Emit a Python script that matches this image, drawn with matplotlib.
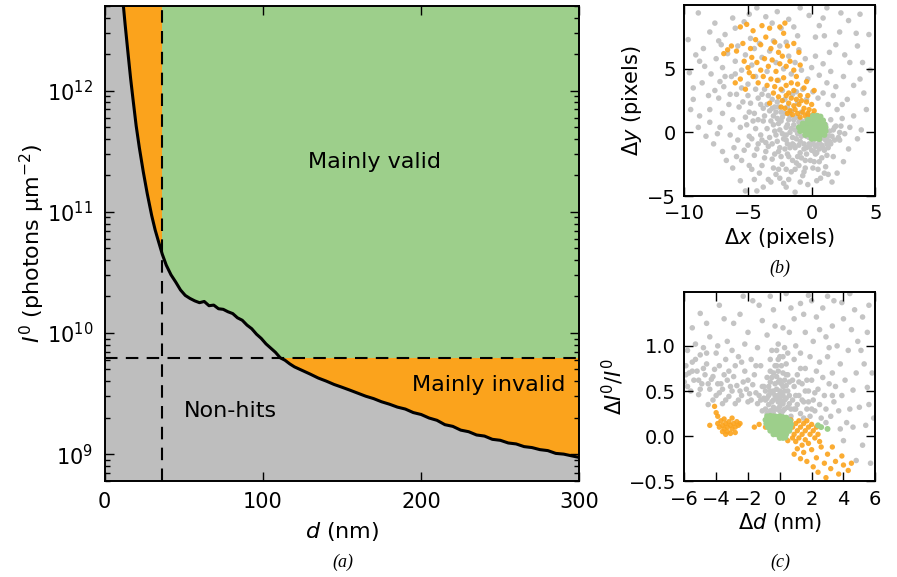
import matplotlib
matplotlib.use("Agg")
import matplotlib.pyplot as plt
import numpy as np

# ---------------- data ----------------
# main curve: d (nm) and log10 I0
curve_d = [0, 6, 9, 11, 12, 13, 14, 15, 16.5, 18, 20, 22, 24.5, 27, 29.8, 32, 34, 36.5, 39, 42, 45,
           48, 51, 54, 57, 60, 63, 66, 69, 72, 75, 78, 81, 84, 87, 90, 93, 96, 99, 102, 105, 108,
           111, 114, 117, 120, 125, 130, 135, 140, 145, 150, 155, 160, 165, 170, 175, 180, 185,
           190, 195, 200, 205, 210, 215, 220, 225, 230, 235, 240, 245, 250, 255, 260, 265, 270,
           275, 280, 285, 290, 295, 300]
curve_logI = [15.0, 13.8, 13.15, 12.84, 12.69, 12.55, 12.42, 12.29, 12.10, 11.93, 11.71, 11.53, 11.33,
              11.15, 10.97, 10.85, 10.76, 10.65, 10.56, 10.48, 10.42, 10.355, 10.31, 10.285, 10.265,
              10.25, 10.26, 10.225, 10.23, 10.20, 10.195, 10.175, 10.16, 10.125, 10.105, 10.065,
              10.035, 9.99, 9.955, 9.91, 9.875, 9.84, 9.795, 9.775, 9.745, 9.72, 9.69, 9.66, 9.628,
              9.603, 9.575, 9.552, 9.528, 9.503, 9.478, 9.458, 9.432, 9.412, 9.388, 9.372, 9.343,
              9.327, 9.298, 9.279, 9.243, 9.229, 9.198, 9.185, 9.158, 9.149, 9.122, 9.114, 9.092,
              9.084, 9.062, 9.054, 9.037, 9.029, 9.006, 9.0, 8.986, 8.972]
d_cut = 36.5          # vertical dashed line (nm)
I_cut = 6.2e9         # horizontal dashed line

# panel (b): delta x / delta y (pixels)
gray_b = [(-9.7,7.3),(-8.9,9.4),(-8.0,7.9),(-6.2,9.0),(-4.3,9.8),(-2.7,9.5),(-0.9,9.8),(1.2,9.8),(3.8,9.3),
          (2.2,7.9),(1.4,6.3),(3.0,5.5),(4.1,3.1),(3.3,1.3),(2.2,-0.6),(1.7,-1.9),(2.0,-3.2),(0.4,-3.8),
          (-2.0,-4.3),(-4.3,-4.6),(-5.6,-3.8),(-6.7,-2.2),(-7.7,-0.9),(-8.8,1.3),(-9.3,2.6),(-9.6,4.7),
          (-9.1,6.1),(-8.4,5.2),(-7.6,8.6),(-7.1,6.9),(-5.3,8.7),(-3.6,9.1),(-1.8,8.9),(-0.2,9.2),(0.6,8.4),
          (2.9,8.8),(4.5,7.7),(3.6,6.8),(2.5,4.4),(4.6,4.9),(2.8,2.6),(3.9,0.2),(2.9,-1.3),(1.1,-2.7),
          (-0.6,-3.1),(-1.3,-4.7),(-3.2,-3.9),(-4.9,-2.6),(-6.1,-1.2),(-7.2,0.4),(-8.3,-0.3),(-8.1,2.9),
          (-8.6,3.9),(-7.9,4.6),(-6.8,7.7),(-4.8,7.4),(-2.4,8.2),(1.9,6.9),(0.3,7.5),(-1.1,7.6),(3.3,3.7),
          (4.3,1.8),(1.6,-3.9),(-2.6,-2.9),(-5.2,-4.6),
          (-7.5,5.8),(-7.0,5.1),(-6.6,6.2),(-6.3,4.4),(-6.0,5.6),(-5.8,6.8),(-5.5,4.9),(-5.2,6.1),(-5.0,3.8),
          (-4.7,5.3),(-4.5,6.6),(-4.4,4.4),(-4.1,7.0),(-3.9,5.9),(-3.7,3.4),(-3.5,4.8),(-3.3,6.4),(-3.0,7.2),
          (-2.8,5.5),(-2.6,4.1),(-2.5,6.8),(-2.2,5.0),(-2.0,7.1),(-1.8,6.0),(-1.6,4.6),(-1.3,5.5),(-1.0,6.5),
          (-0.8,4.9),(-0.5,5.8),(-0.3,4.2),(0.0,5.1),(0.3,6.0),(0.6,4.5),(0.9,5.4),(1.2,3.9),(1.5,4.8),
          (-6.9,3.6),(-7.3,2.7),(-6.5,2.2),(-5.9,3.0),(-5.4,2.4),(-4.9,1.6),(-6.2,1.0),(-7.0,1.5),(-7.6,3.3),
          (-8.0,1.8),(-5.6,0.4),(-4.6,0.9),(-4.2,2.7),(-3.8,1.9),(-3.4,2.9),(-3.0,1.3),(-2.7,2.4),(-2.3,3.3),
          (-1.9,2.0),(-1.5,3.0),(-1.1,2.3),(-0.7,3.4),(-0.4,2.6),(0.1,3.2),(0.5,2.7),(0.9,3.1),(1.3,2.2),
          (1.7,2.9),(2.0,1.8),(2.4,1.1),(1.9,0.5),(2.6,-0.1),
          (-5.8,-0.6),(-5.3,-1.4),(-4.9,-0.3),(-4.5,-1.8),(-4.2,-0.9),(-3.9,-2.6),(-3.6,-1.5),(-3.3,-0.4),
          (-3.1,-2.1),(-2.8,-3.3),(-2.5,-1.2),(-2.3,-2.5),(-2.0,-0.6),(-1.8,-1.9),(-1.6,-3.1),(-1.4,-1.0),
          (-1.2,-2.4),(-0.9,-1.6),(-0.7,-3.4),(-0.5,-2.2),(-0.2,-1.1),(0.1,-2.8),(0.3,-1.7),(0.6,-2.3),
          (0.9,-1.2),(1.2,-1.8),(1.4,-0.7),(1.0,-3.2),(-3.4,-3.7),(-4.1,-3.2),(-4.7,-2.9),(-2.2,-4.0),
          (-0.3,-4.1),(0.7,-3.6),(-5.0,-1.0),(-6.4,-0.2),
          (-3.0,0.6),(-2.8,-0.2),(-2.7,1.1),(-2.5,0.2),(-2.4,0.9),(-2.2,-0.5),(-2.1,1.5),(-2.0,0.4),
          (-1.9,-0.9),(-1.8,1.0),(-1.7,0.0),(-1.6,1.7),(-1.5,-0.4),(-1.4,0.6),(-1.3,-1.2),(-1.2,1.2),
          (-1.1,-0.1),(-1.0,0.8),(-0.9,-0.7),(-0.8,1.6),(-0.7,0.3),(-0.6,-1.3),(-0.5,0.9),(-0.4,-0.3),
          (-0.3,1.4),(-0.2,-0.9),(-0.1,0.1),(0.0,-1.4),(0.1,0.7),(0.2,-0.5),(0.3,-1.1),(0.5,-0.2),
          (0.6,-0.8),(0.8,0.2),(0.9,-0.4),(1.1,0.6),(1.2,-0.9),(1.4,0.1),(1.6,-0.3),(1.5,1.0),(-3.5,0.3),
          (-3.8,0.9),(-4.0,-0.2),(-3.3,1.7),(-2.9,2.0),(-3.6,-0.8),(-2.6,-1.5),(-1.9,-1.7),(-1.1,-1.9),
          (-0.4,-1.7),(0.4,-1.6),(1.0,-1.4),(1.8,0.4),(2.2,0.0),(-4.4,0.3),(-5.1,0.6),(-4.8,2.3),(-3.1,2.6),
          (-2.1,2.6),(-1.2,3.2),
          (-2.9,0.1),(-2.6,0.7),(-2.3,1.2),(-2.3,-0.1),(-2.0,-0.2),(-1.9,0.6),(-1.7,1.3),(-1.6,0.3),
          (-1.5,-0.9),(-1.4,1.0),(-1.3,0.2),(-1.2,-0.5),(-1.0,0.4),(-1.0,-1.0),(-0.9,1.0),(-0.8,-0.3),
          (-0.7,0.7),(-0.6,-0.9),(-0.5,0.2),(-0.4,-1.2),(-0.3,0.5),(-0.2,-0.4),(-0.1,-1.0),(0.0,-0.1),
          (0.1,-0.8),(0.2,-1.5),(0.3,-0.3),(0.4,-1.0),(0.6,-1.3),(0.7,-0.5),(0.8,-1.0),(1.0,-0.1),
          (1.1,-0.6),(1.3,-0.3),(1.3,-1.2),(1.5,-0.9),(1.7,0.2),(1.8,-0.6),(2.1,-0.4),(2.3,0.5),
          (-4.5,1.5),(-4.2,1.0),(-4.0,2.2),(-3.7,1.3),(-3.5,2.2),(-3.2,0.9),(-3.1,1.9),(-2.8,1.6),
          (-2.6,2.0),(-2.4,1.6),(-3.9,3.0),(-4.4,3.4),(-5.0,2.9),(-5.5,3.5),(-6.0,4.6),(-5.7,2.0),
          (-6.4,3.0),(-6.8,4.4),(-7.2,4.0),(-5.2,1.2),(-4.7,-0.5),(-4.3,-1.3),(-3.9,-0.6),(-3.7,-2.0),
          (-3.4,-1.1),(-3.1,-0.9),(-2.9,-1.7),(-2.7,-0.7),(-2.4,-1.9),(-2.1,-1.3),(-1.7,-1.2),(-1.5,-2.2),
          (-1.3,-2.9),(-1.0,-2.6),(-0.8,-2.0),(-0.5,-2.8),(-0.1,-2.2),(0.2,-2.3),(0.5,-2.9),(0.8,-2.0),
          (-2.0,-2.9),(-2.5,-3.6),(-1.8,-3.7),(-3.0,-2.8),(-6.2,-2.8),(-5.5,-2.2),(-7.0,-1.5),(-5.9,-1.9),
          (-8.8,5.6),(-9.3,3.5),(-8.5,6.6),(-7.3,7.2),(-6.0,8.2),(-4.9,9.3),(-3.1,8.6),(-1.4,8.3),
          (0.9,9.0),(2.3,9.4),(3.5,7.8),(4.0,5.5),(2.6,6.1),(1.0,7.6),(3.8,4.2),(1.9,3.6),(2.4,2.2),
          (3.0,0.4),(3.6,-0.5),(2.5,-2.3),(1.3,-3.3),(-0.9,-3.9),(-3.8,-4.3),(-4.5,-3.7),(-7.4,-0.1),
          (-8.9,0.4),(-9.5,1.8),(-8.0,0.8)]
orange_b = [(-5.6,8.3),(-5.1,8.5),(-4.6,8.0),(-3.9,8.4),(-3.3,8.2),(-2.5,8.3),(-2.2,7.8),(-6.3,6.8),
            (-5.9,6.4),(-5.4,7.0),(-4.8,6.6),(-4.4,7.3),(-4.0,6.9),(-3.6,7.5),(-3.2,6.6),(-2.9,7.1),
            (-2.6,6.3),(-1.9,6.8),(-1.4,7.0),(-1.0,6.3),(-5.3,5.6),(-5.0,5.1),(-4.7,5.9),(-4.3,5.5),
            (-4.0,4.9),(-3.7,5.8),(-3.4,5.2),(-3.1,5.7),(-2.8,4.8),(-2.5,5.4),(-2.3,6.0),(-2.0,5.2),
            (-1.7,5.6),(-1.4,4.9),(-0.9,5.3),(-5.6,4.2),(-4.6,4.4),(-4.2,3.9),(-3.8,4.4),(-3.5,3.7),
            (-3.2,4.2),(-2.9,3.6),(-2.7,4.1),(-2.4,3.4),(-2.2,4.3),(-2.0,3.7),(-1.8,3.1),(-1.6,3.9),
            (-1.4,3.3),(-1.1,3.8),(-0.9,2.9),(-0.6,3.5),(-3.0,3.1),(-2.6,2.8),(-2.3,2.5),(-2.0,2.9),
            (-1.8,2.3),(-1.6,2.7),(-1.4,2.1),(-1.2,2.6),(-1.0,2.2),(-0.8,2.5),(-0.6,1.9),(-0.4,2.4),
            (-0.2,1.8),(0.0,2.2),(0.2,1.7),(-1.7,1.7),(-1.5,1.4),(-1.3,1.8),(-1.1,1.5),(-0.9,1.2),
            (-0.7,1.6),(-0.5,1.3),(-0.3,1.5),(-0.1,1.2),(0.1,1.4),(0.3,1.1),(0.5,1.3),(0.7,1.0),
            (-2.1,1.9),(-2.4,2.0),(-1.9,1.5),(-3.3,2.3),(-0.3,2.9),(0.2,3.3),(-4.9,4.7),(-6.0,3.9),
            (-5.2,3.4),(-1.2,4.4),(-0.4,4.0),(-2.1,8.6),(-6.6,6.5),(-6.9,6.2)]
green_b = [(0.1,1.3),(0.4,1.32),(0.7,1.25),(-0.3,1.0),(0.0,1.05),(0.3,0.98),(0.6,1.02),(0.9,0.95),
           (-0.7,0.7),(-0.4,0.72),(-0.1,0.68),(0.2,0.71),(0.5,0.67),(0.8,0.7),(1.0,0.66),(-1.0,0.4),
           (-0.7,0.42),(-0.4,0.38),(-0.1,0.41),(0.2,0.39),(0.5,0.42),(0.8,0.38),(1.1,0.4),(-0.9,0.1),
           (-0.6,0.12),(-0.3,0.08),(0.0,0.11),(0.3,0.09),(0.6,0.12),(0.9,0.08),(1.1,0.1),(-0.5,-0.2),
           (-0.2,-0.18),(0.1,-0.22),(0.4,-0.19),(0.7,-0.21),(1.0,-0.2),(0.0,-0.5),(0.3,-0.48),(0.6,-0.52)]

# panel (c): delta d (nm) / delta I0 / I0
gray_c = [(-5.0,1.36),(-2.9,1.25),(-1.7,1.50),(-0.4,1.40),(0.4,1.58),(1.3,1.47),(2.3,1.32),(3.4,1.50),
          (4.4,1.58),(5.2,1.32),(2.9,1.10),(3.8,0.80),(4.6,0.51),(5.5,0.54),(5.0,0.32),(4.8,-0.27),
          (4.0,-0.05),(-3.8,1.45),(-2.3,1.55),(-1.1,1.28),(0.9,1.30),(1.8,1.56),(2.7,1.42),(4.0,1.30),
          (4.9,1.05),(5.6,1.45),(3.3,1.22),(3.6,1.00),(4.3,0.95),(5.3,0.80),(-4.4,1.10),(-3.3,1.05),
          (-2.0,1.15),(-0.8,1.12),(0.2,1.20),(1.6,1.15),(2.1,1.05),(1.0,1.00),(-1.4,0.98),(-0.1,1.02),
          (3.0,0.88),(2.5,0.82),(4.1,0.62),(5.8,0.70),(5.4,0.12),(5.7,-0.30),(3.5,0.55),(4.4,0.30),
          (-5.9,0.78),(-5.7,0.70),(-5.5,0.82),(-5.4,0.62),(-5.2,0.72),(-5.0,0.90),(-4.9,0.58),(-4.7,0.68),
          (-4.6,0.80),(-4.4,0.52),(-4.3,0.63),(-4.1,0.74),(-4.0,0.92),(-3.8,0.48),(-3.7,0.58),(-3.5,0.68),
          (-3.4,0.85),(-3.2,0.44),(-3.1,0.55),(-2.9,0.66),(-2.8,0.78),(-2.6,0.40),(-2.5,0.50),(-2.3,0.60),
          (-2.2,0.72),(-2.0,0.38),(-1.9,0.47),(-1.7,0.57),(-1.6,0.68),(-1.4,0.36),(-1.3,0.45),(-1.1,0.55),
          (-5.8,0.95),(-5.3,1.02),(-4.8,0.98),(-3.9,1.00),(-3.0,0.95),(-2.6,0.88),(-1.8,0.85),(-1.2,0.78),
          (-5.6,0.50),(-5.1,0.46),(-4.2,0.40),(-3.6,0.36),(-6.0,0.60),(-4.5,0.35),
          (-0.9,0.30),(-0.8,0.42),(-0.7,0.55),(-0.6,0.28),(-0.5,0.38),(-0.5,0.65),(-0.4,0.50),(-0.3,0.30),
          (-0.3,0.78),(-0.2,0.42),(-0.1,0.60),(0.0,0.33),(0.0,0.88),(0.1,0.48),(0.2,0.28),(0.2,0.70),
          (0.3,0.40),(0.4,0.56),(0.5,0.32),(0.6,0.45),(-0.6,0.85),(-0.2,0.95),(0.3,0.98),(-0.4,0.25),
          (0.1,0.25),(-0.7,0.35),(-0.1,0.72),(0.4,0.80),(-0.8,0.65),(0.7,0.30),(-0.2,0.52),(0.1,0.38),
          (-0.4,0.40),(0.3,0.62),(-0.9,0.50),(0.5,0.68),(-0.1,0.45),(0.2,0.55),(-1.0,0.42),(-1.1,0.28),
          (-0.6,0.72),(0.0,0.62),
          (0.8,0.40),(0.9,0.55),(1.0,0.30),(1.1,0.68),(1.2,0.45),(1.3,0.25),(1.4,0.58),(1.5,0.38),
          (1.6,0.75),(1.7,0.30),(1.8,0.50),(1.9,0.22),(2.0,0.62),(2.1,0.40),(2.2,0.28),(2.4,0.52),
          (2.5,0.35),(2.6,0.20),(2.8,0.45),(2.9,0.30),(3.1,0.58),(3.2,0.22),(3.4,0.38),(3.7,0.28),
          (3.9,0.45),(4.2,0.15),(0.9,0.85),(1.3,0.92),(1.9,0.88),(2.3,0.72),(2.7,0.65),(3.3,0.70),
          (1.5,0.20),(0.7,0.22),
          (-0.8,0.25),(-0.7,0.45),(-0.6,0.60),(-0.5,0.48),(-0.4,0.70),(-0.4,0.32),(-0.3,0.58),(-0.3,0.45),
          (-0.2,0.30),(-0.2,0.66),(-0.1,0.38),(-0.1,0.85),(0.0,0.50),(0.0,0.42),(0.1,0.58),(0.1,0.78),
          (0.2,0.45),(0.2,0.36),(0.3,0.50),(0.3,0.30),(0.4,0.42),(0.4,0.68),(0.5,0.50),(0.6,0.36),
          (0.6,0.60),(-0.6,0.50),(-0.9,0.40),(-1.0,0.55),(-0.5,0.28),(0.0,0.28),(-0.2,0.78),(0.2,0.88),
          (-0.5,0.95),(0.5,0.92),(0.8,0.62),(0.9,0.30),(1.0,0.45),(1.1,0.35),(1.2,0.60),(1.4,0.40),
          (1.6,0.50),(1.8,0.38),(2.0,0.30),(2.2,0.48),(1.3,0.75),(1.7,0.62),
          (-5.9,0.68),(-5.5,0.72),(-5.1,0.62),(-4.8,0.75),(-4.5,0.58),(-4.2,0.66),(-3.9,0.58),(-3.6,0.52),
          (-3.3,0.62),(-3.0,0.50),(-2.7,0.56),(-2.4,0.45),(-2.1,0.52),(-1.8,0.40),(-1.5,0.48),(-1.2,0.40),
          (-5.3,0.85),(-4.6,0.92),(-3.8,0.78),(-3.2,0.72),(-2.4,0.82),(-1.5,0.78),(-2.0,0.62),(-4.0,0.45),
          (-3.4,0.40),(-2.8,0.36),(-5.8,0.55),(-5.0,0.52),
          (-4.6,1.25),(-3.5,1.30),(-2.5,1.35),(-1.3,1.45),(-0.6,1.55),(0.7,1.42),(1.5,1.35),(2.0,1.50),
          (3.0,1.55),(3.9,1.48),(4.7,1.40),(5.5,1.15),(-0.3,1.22),(0.6,1.15),(2.5,1.18),(3.1,0.98),
          (4.5,1.18),(5.1,0.95),(4.8,0.70),(5.6,0.35),(5.2,-0.10),(4.6,0.10),(3.8,0.08),(3.3,0.45),
          (2.9,0.15),(5.9,0.20),(-5.5,1.20),(-2.2,1.02)]
orange_c = [(-3.9,0.14),(-3.8,0.10),(-3.7,0.17),(-3.6,0.12),(-3.5,0.08),(-3.5,0.19),(-3.4,0.14),
            (-3.3,0.10),(-3.3,0.05),(-3.2,0.16),(-3.1,0.12),(-3.0,0.08),(-3.0,0.20),(-2.9,0.14),
            (-2.8,0.10),(-2.7,0.16),(-2.6,0.12),(-2.5,0.14),(-3.4,0.02),(-3.1,0.03),(-3.6,0.05),
            (-2.8,0.04),(-4.1,0.33),(-4.0,0.26),(-3.9,0.22),(-1.6,0.10),(-1.3,0.13),(-0.9,0.10),
            (-4.4,0.12),
            (0.7,0.18),(0.8,0.10),(0.9,0.02),(1.0,0.14),(1.1,0.06),(1.2,-0.02),(1.2,0.17),(1.3,0.10),
            (1.4,0.02),(1.5,0.14),(1.6,0.06),(1.6,-0.04),(1.7,0.17),(1.8,0.10),(1.9,0.02),(2.0,0.13),
            (2.1,0.06),(2.2,-0.02),(2.3,0.10),(1.0,-0.06),(0.8,-0.02),(0.5,-0.05),(0.6,0.06),(1.4,-0.10),
            (1.8,-0.08),(2.4,0.02),(2.5,-0.06),(1.1,-0.14),(1.5,-0.18),(2.0,-0.15),(2.3,-0.24),
            (2.6,-0.12),(2.8,-0.30),(3.0,-0.20),(3.2,-0.36),(3.5,-0.28),(3.7,-0.42),(4.0,-0.32),
            (4.3,-0.38),(4.5,-0.30),(2.4,-0.40),(2.9,-0.46),(3.9,-0.22),(1.7,-0.28),(3.3,-0.12),
            (0.9,-0.20),(2.1,-0.34),(1.3,-0.25)]
green_c = [(-0.8,0.22),(-0.6,0.225),(-0.4,0.22),(-0.2,0.215),(0.0,0.22),(0.2,0.21),(0.4,0.205),
           (-0.9,0.18),(-0.7,0.18),(-0.5,0.185),(-0.3,0.18),(-0.1,0.175),(0.1,0.18),(0.3,0.175),
           (0.5,0.18),(0.65,0.17),(-0.85,0.14),(-0.65,0.14),(-0.45,0.145),(-0.25,0.14),(-0.05,0.135),
           (0.15,0.14),(0.35,0.14),(0.55,0.145),(0.7,0.13),(-0.75,0.10),(-0.55,0.10),(-0.35,0.105),
           (-0.15,0.10),(0.05,0.095),(0.25,0.10),(0.45,0.10),(0.65,0.095),(-0.6,0.06),(-0.4,0.06),
           (-0.2,0.065),(0.0,0.06),(0.2,0.055),(0.4,0.06),(0.6,0.06),(-0.4,0.02),(-0.2,0.02),(0.0,0.025),
           (0.2,0.02),(0.4,0.02),(0.0,-0.02),(0.2,-0.02),(0.35,-0.015),(2.4,0.12),(2.6,0.10),(3.0,0.08)]

# ---------------- style ----------------
GRAY = '#bebebe'
ORANGE = '#fba31c'
GREEN = '#9dcf8b'
PT_GRAY = '#c4c4c4'

plt.rcParams.update({
    'font.family': 'DejaVu Sans',
    'mathtext.fontset': 'dejavusans',
    'xtick.direction': 'in', 'ytick.direction': 'in',
    'xtick.top': True, 'ytick.right': True,
    'xtick.major.size': 6.5, 'ytick.major.size': 6.5,
    'xtick.minor.size': 3.5, 'ytick.minor.size': 3.5,
    'xtick.major.width': 1.0, 'ytick.major.width': 1.0,
    'xtick.minor.width': 1.0, 'ytick.minor.width': 1.0,
    'axes.linewidth': 1.4,
})

fig = plt.figure(figsize=(8.97, 5.77), dpi=100)

# ---------------- panel (a) ----------------
ax = fig.add_axes([0.1165, 0.1664, 0.5295, 0.8232])
d = np.array(curve_d, dtype=float)
I = 10.0 ** np.array(curve_logI)
ymin, ymax = 6e8, 5e12
ax.set_facecolor(ORANGE)
ax.fill_between([d_cut, 300], I_cut, ymax, color=GREEN, lw=0)
ax.fill_between(d, ymin, I, color=GRAY, lw=0)
ax.plot(d, I, color='black', lw=2.2)
ax.axvline(d_cut, color='black', lw=1.5, dashes=(6, 4))
ax.axhline(I_cut, color='black', lw=1.5, dashes=(6, 4))
ax.set_yscale('log')
ax.set_xlim(0, 300)
ax.set_ylim(ymin, ymax)
ax.set_xticks([0, 100, 200, 300])
ax.tick_params(labelsize=15, pad=8)
ax.set_xlabel(r'$d$ (nm)', fontsize=16, labelpad=6)
ax.set_ylabel(r'$I^0$ (photons µm$^{-2}$)', fontsize=16, labelpad=0)
ax.text(0.569, 0.671, 'Mainly valid', fontsize=16, ha='center', va='center', transform=ax.transAxes)
ax.text(0.809, 0.202, 'Mainly invalid', fontsize=16, ha='center', va='center', transform=ax.transAxes)
ax.text(0.266, 0.148, 'Non-hits', fontsize=16, ha='center', va='center', transform=ax.transAxes)

# ---------------- panel (b) ----------------
axb = fig.add_axes([0.7629, 0.6603, 0.2129, 0.3305])
gb = np.array(gray_b); ob = np.array(orange_b); grb = np.array(green_b)
axb.scatter(gb[:, 0], gb[:, 1], s=16, color=PT_GRAY, edgecolors='none')
axb.scatter(ob[:, 0], ob[:, 1], s=15, color=ORANGE, edgecolors='none', alpha=0.9)
axb.scatter(grb[:, 0], grb[:, 1], s=18, color=GREEN, edgecolors='none')
axb.set_xlim(-10, 5)
axb.set_ylim(-5, 10)
axb.set_xticks([-10, -5, 0, 5])
axb.set_yticks([-5, 0, 5])
axb.tick_params(labelsize=14, pad=6)
axb.set_xlabel(r'$\Delta x$ (pixels)', fontsize=15, labelpad=2)
axb.set_ylabel(r'$\Delta y$ (pixels)', fontsize=15, labelpad=2)

# ---------------- panel (c) ----------------
axc = fig.add_axes([0.7629, 0.1659, 0.2129, 0.3285])
gc = np.array(gray_c); oc = np.array(orange_c); grc = np.array(green_c)
axc.scatter(gc[:, 0], gc[:, 1], s=16, color=PT_GRAY, edgecolors='none')
axc.scatter(oc[:, 0], oc[:, 1], s=15, color=ORANGE, edgecolors='none', alpha=0.9)
axc.scatter(grc[:, 0], grc[:, 1], s=18, color=GREEN, edgecolors='none')
axc.set_xlim(-6, 6)
axc.set_ylim(-0.5, 1.6)
axc.set_xticks([-6, -4, -2, 0, 2, 4, 6])
axc.set_yticks([-0.5, 0.0, 0.5, 1.0])
axc.set_yticklabels(['−0.5', '0.0', '0.5', '1.0'])
axc.tick_params(labelsize=14, pad=6)
axc.set_xlabel(r'$\Delta d$ (nm)', fontsize=15, labelpad=2)
axc.set_ylabel(r'$\Delta I^0/I^0$', fontsize=15, labelpad=2)

# captions
cap = dict(family='Liberation Serif', style='italic', fontsize=13, ha='center', va='center')
fig.text(343 / 897, 1 - 562 / 577, '(a)', **cap)
fig.text(780 / 897, 1 - 268 / 577, '(b)', **cap)
fig.text(780 / 897, 1 - 562 / 577, '(c)', **cap)

fig.savefig('out.png', dpi=100)
